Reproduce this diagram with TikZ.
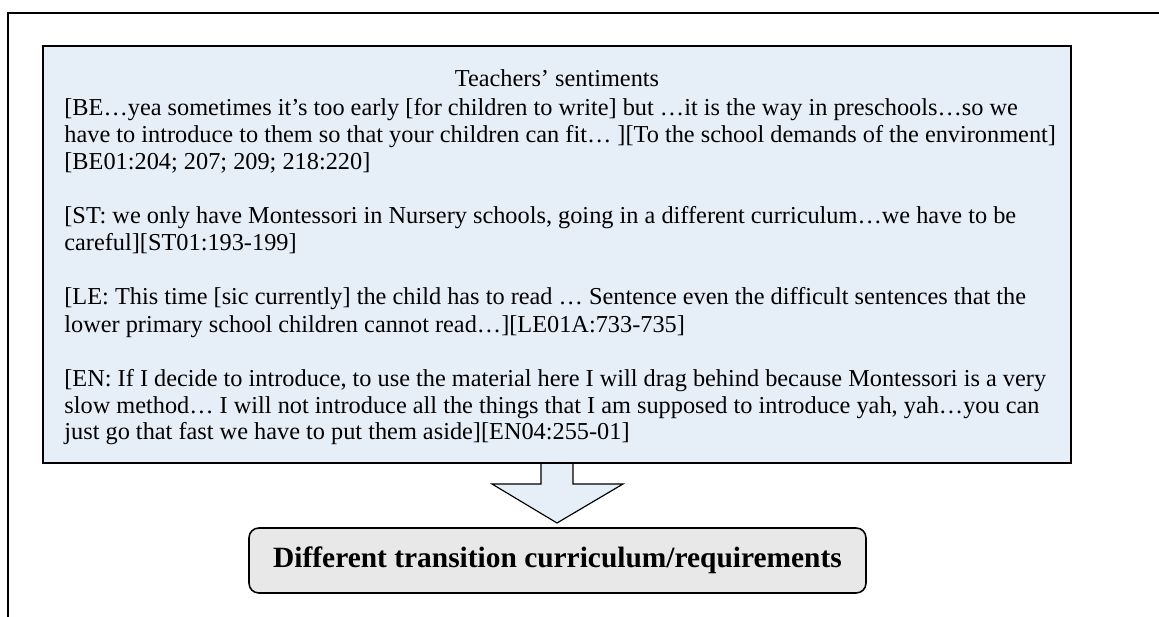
\documentclass[tikz,border=0pt]{standalone}
\usepackage{fontspec}
\setmainfont{Liberation Serif}
\definecolor{boxblue}{RGB}{230,238,248}
\definecolor{boxgray}{RGB}{232,232,232}
\begin{document}
\begin{tikzpicture}[x=0.51pt,y=-0.51pt,
  txt/.style={anchor=base west,inner sep=0pt,font=\fontsize{12.4}{14}\selectfont},
  frameline/.style={line width=0.8pt,black},
  arrowshape/.style={fill=boxblue,draw=black,line width=0.6pt,line join=miter},
  quotebox/.style={fill=boxblue,draw=black,line width=1pt},
  resultbox/.style={fill=boxgray,draw=black,line width=0.8pt,rounded corners=5pt,
    minimum width=617*0.51pt,minimum height=65*0.51pt,inner sep=0pt,
    font=\fontsize{15}{17}\selectfont\bfseries}]
\useasboundingbox (0,0) rectangle (1159,617);
% outer frame (top and left)
\coordinate (fa) at (1159,13);
\coordinate (fb) at (8,13);
\coordinate (fc) at (8,617);
\draw[frameline] (fa) -- (fb) -- (fc);
% arrow
\draw[arrowshape] (541,440) -- (541,484) -- (492,484) -- (557,523) -- (623,484) -- (573,484) -- (573,440) -- cycle;
% quote box
\draw[quotebox] (43,46) rectangle (1071,463);
\node[txt,anchor=base] (title) at (557,87) {Teachers’ sentiments};
\node[txt] (l1) at (64,116) {[BE…yea sometimes it’s too early [for children to write] but …it is the way in preschools…so we};
\node[txt] (l2) at (64,143) {have to introduce to them so that your children can fit… ][To the school demands of the environment]};
\node[txt] (l3) at (64,170) {[BE01:204; 207; 209; 218:220]};
\node[txt] (l4) at (64,224) {[ST: we only have Montessori in Nursery schools, going in a different curriculum…we have to be};
\node[txt] (l5) at (64,251) {careful][ST01:193-199]};
\node[txt] (l6) at (64,305) {[LE: This time [sic currently] the child has to read … Sentence even the difficult sentences that the};
\node[txt] (l7) at (64,332) {lower primary school children cannot read…][LE01A:733-735]};
\node[txt] (l8) at (64,386) {[EN: If I decide to introduce, to use the material here I will drag behind because Montessori is a very};
\node[txt] (l9) at (64,413) {slow method… I will not introduce all the things that I am supposed to introduce yah, yah…you can};
\node[txt] (l10) at (64,440) {just go that fast we have to put them aside][EN04:255-01]};
% result box
\node[resultbox] (result) at (557.5,560.5) {Different transition curriculum/requirements};
\end{tikzpicture}
\end{document}
